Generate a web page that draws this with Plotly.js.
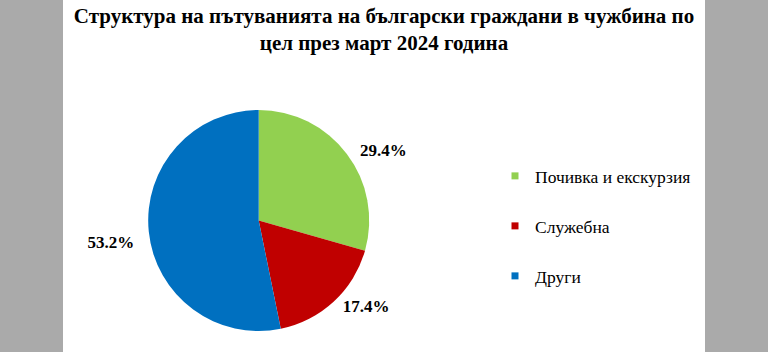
<!DOCTYPE html>
<html>
<head>
<meta charset="utf-8">
<script src="https://cdn.plot.ly/plotly-3.0.1.min.js"></script>
<style>html,body{margin:0;padding:0;background:#AAAAAA;}#chart{width:768px;height:352px;}</style>
</head>
<body>
<div id="chart"></div>
<script>
const categories = ['Почивка и екскурзия', 'Служебна', 'Други'];
const shares = [29.4, 17.4, 53.2];
const colors = ['#92D050', '#C00000', '#0070C0'];
const titleText = 'Структура на пътуванията на български граждани в чужбина по<br>цел през март 2024 година';

const W = 768, H = 352;
const cx = 258.7, cy = 220.5, r = 110.5;
const nb = '\u00a0';

const traces = [{
  type: 'pie',
  labels: categories,
  values: shares,
  sort: false,
  direction: 'clockwise',
  rotation: 0,
  marker: {colors: colors, line: {width: 0}},
  texttemplate: [nb + nb + '%{value:.1f}%', nb + '%{value:.1f}%', nb + '<br>%{value:.1f}%' + nb],
  textposition: 'outside',
  textfont: {family: 'Liberation Serif', size: 17, color: '#000', weight: 'bold'},
  showlegend: false,
  hoverinfo: 'label+percent',
  domain: {x: [(cx - r) / W, (cx + r) / W], y: [1 - (cy + r) / H, 1 - (cy - r) / H]}
}];

categories.forEach((c, i) => {
  traces.push({
    type: 'scatter', mode: 'markers',
    x: [null], y: [null],
    name: c, legendgroup: 'g' + i,
    marker: {symbol: 'square', size: 7, color: colors[i]},
    showlegend: true, hoverinfo: 'skip'
  });
});

const layout = {
  width: W, height: H,
  margin: {l: 0, r: 0, t: 0, b: 0},
  paper_bgcolor: '#AAAAAA',
  plot_bgcolor: '#FFFFFF',
  xaxis: {domain: [63 / W, 705 / W], visible: false, fixedrange: true},
  yaxis: {domain: [0, 1], visible: false, fixedrange: true},
  title: {
    text: titleText,
    font: {family: 'Liberation Serif', size: 21, color: '#000', weight: 'bold'},
    x: 0.5, xanchor: 'center',
    yref: 'container', y: 1 - 23 / H, yanchor: 'top'
  },
  showlegend: true,
  legend: {
    x: 495 / W, xanchor: 'left',
    y: 1 - 158 / H, yanchor: 'top',
    font: {family: 'Liberation Serif', size: 17.5, color: '#000'},
    tracegroupgap: 24.25,
    bgcolor: 'rgba(0,0,0,0)',
    traceorder: 'grouped'
  }
};

Plotly.newPlot('chart', traces, layout, {displayModeBar: false, staticPlot: true});
</script>
</body>
</html>
